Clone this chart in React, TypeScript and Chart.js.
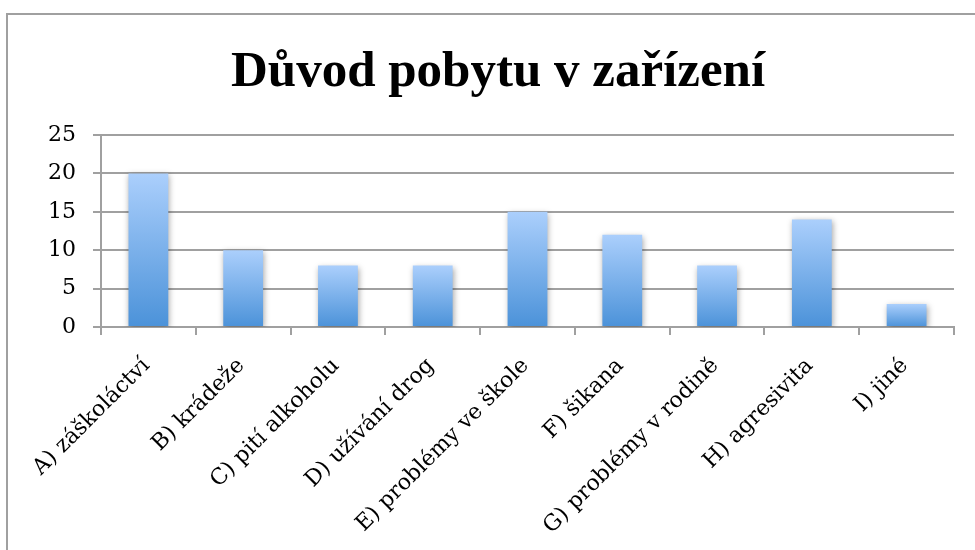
import React, { useEffect, useRef } from "react";
import { Chart, registerables } from "chart.js";

Chart.register(...registerables);

const titleText = "Důvod pobytu v zařízení";
const categories = [
  "A) záškoláctví",
  "B) krádeže",
  "C) pití alkoholu",
  "D) užívání drog",
  "E) problémy ve škole",
  "F) šikana",
  "G) problémy v rodině",
  "H) agresivita",
  "I) jiné",
];
const values = [20, 10, 8, 8, 15, 12, 8, 14, 3];
const yMin = 0;
const yMax = 25;
const yStep = 5;

const TITLE_FONT = "'Liberation Serif', 'DejaVu Serif', serif";
const TICK_FONT = "'DejaVu Serif', 'Liberation Serif', serif";

const framePlugin = {
  id: "frame",
  beforeDraw(chart: any) {
    const ctx = chart.ctx;
    ctx.save();
    ctx.fillStyle = "#ffffff";
    ctx.fillRect(0, 0, chart.width, chart.height);
    ctx.strokeStyle = "#a0a0a0";
    ctx.lineWidth = 2;
    ctx.strokeRect(7, 14, 1200, 1200);
    ctx.restore();
  },
  afterDraw(chart: any) {
    const ctx = chart.ctx;
    ctx.save();
    ctx.fillStyle = "#000000";
    ctx.font = "bold 51px " + TITLE_FONT;
    ctx.textAlign = "center";
    ctx.textBaseline = "middle";
    ctx.fillText(titleText, 498, 73);
    ctx.restore();
  },
};

const shadowPlugin = {
  id: "barShadow",
  beforeDatasetsDraw(chart: any) {
    const ctx = chart.ctx;
    ctx.save();
    ctx.shadowColor = "rgba(0,0,0,0.35)";
    ctx.shadowBlur = 6;
    ctx.shadowOffsetX = 1;
    ctx.shadowOffsetY = 2;
  },
  afterDatasetsDraw(chart: any) {
    chart.ctx.restore();
  },
};

export default function App() {
  const ref = useRef<HTMLCanvasElement | null>(null);

  useEffect(() => {
    if (!ref.current) return;
    const chart = new Chart(ref.current, {
      type: "bar",
      data: {
        labels: categories,
        datasets: [
          {
            data: values,
            backgroundColor: (c: any) => {
              const chartObj = c.chart;
              const ys = chartObj.scales && chartObj.scales.y;
              if (!chartObj.chartArea || !ys || c.dataIndex === undefined) return "#7fb0ec";
              const v = c.raw as number;
              const top = ys.getPixelForValue(v);
              const bottom = ys.getPixelForValue(0);
              const g = chartObj.ctx.createLinearGradient(0, top, 0, bottom);
              g.addColorStop(0, "#abcffc");
              g.addColorStop(1, "#4b92d9");
              return g;
            },
            borderWidth: 0,
            categoryPercentage: 1,
            barPercentage: 0.42,
          },
        ],
      },
      options: {
        responsive: false,
        animation: false,
        layout: { padding: { left: 0, right: 21, top: 135, bottom: 0 } },
        plugins: {
          legend: { display: false },
          tooltip: { enabled: false },
          title: { display: false },
        },
        scales: {
          x: {
            offset: true,
            grid: {
              offset: true,
              drawOnChartArea: false,
              drawTicks: true,
              tickLength: 8,
              color: "#a0a0a0",
              lineWidth: 2,
            },
            border: { display: true, color: "#a0a0a0", width: 2 },
            ticks: {
              color: "#000000",
              font: { family: TICK_FONT, size: 22 },
              minRotation: 45,
              maxRotation: 45,
              autoSkip: false,
              padding: 18,
              labelOffset: -2,
            },
            afterFit: (s: any) => {
              s.height = 550 - 327;
            },
          },
          y: {
            min: yMin,
            max: yMax,
            grid: {
              drawTicks: true,
              tickLength: 8,
              color: "#a0a0a0",
              lineWidth: 2,
            },
            border: { display: true, color: "#a0a0a0", width: 2 },
            ticks: {
              stepSize: yStep,
              color: "#000000",
              font: { family: TICK_FONT, size: 22 },
              padding: 17,
            },
            afterFit: (s: any) => {
              s.width = 101;
            },
          },
        },
      },
      plugins: [framePlugin, shadowPlugin],
    });
    return () => chart.destroy();
  }, []);

  return (
    <div style={{ position: "absolute", left: 0, top: 0, width: 975, height: 550 }}>
      <canvas ref={ref} width={975} height={550} />
    </div>
  );
}
